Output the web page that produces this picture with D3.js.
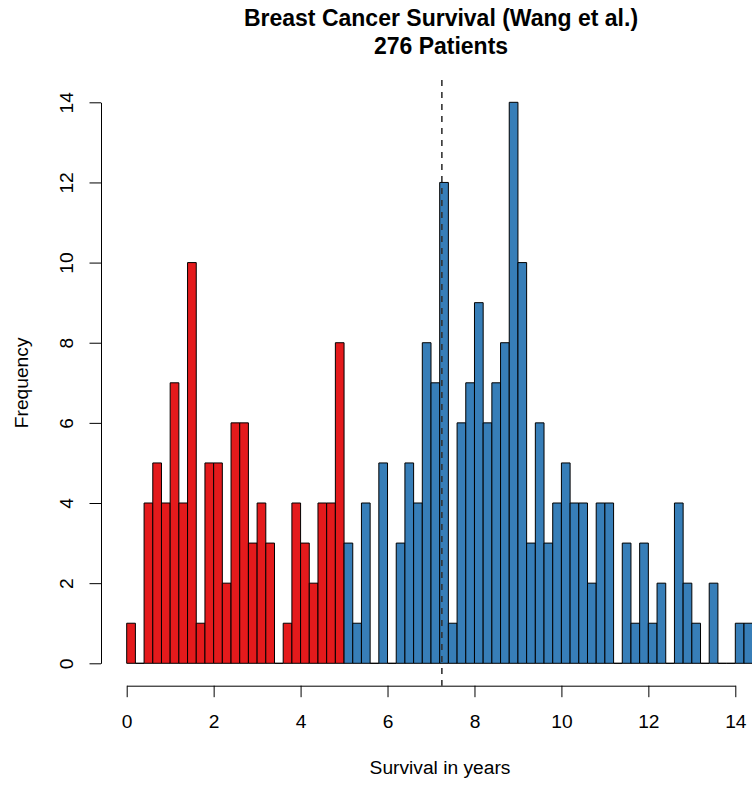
<!DOCTYPE html>
<html>
<head>
<meta charset="utf-8">
<script src="https://cdn.jsdelivr.net/npm/d3@7"></script>
<style>
  html, body { margin: 0; padding: 0; background: #ffffff; }
  svg { display: block; font-family: "Liberation Sans", Arial, Helvetica, sans-serif; }
</style>
</head>
<body>
<svg id="chart" width="752" height="787"></svg>
<script>
// ---- data ----
const binWidth = 0.2;
// lower edges of bins (years) for the red group (< 5 years)
const redStarts = [0.0, 0.2, 0.4, 0.6, 0.8, 1.0, 1.2, 1.4, 1.6, 1.8, 2.0, 2.2, 2.4, 2.6, 2.8,
                   3.0, 3.2, 3.4, 3.6, 3.8, 4.0, 4.2, 4.4, 4.6, 4.8];
const redCounts = [1, 0, 4, 5, 4, 7, 4, 10, 1, 5, 5, 2, 6, 6, 3,
                   4, 3, 0, 1, 4, 3, 2, 4, 4, 8];
// lower edges of bins (years) for the blue group (>= 5 years)
const blueStarts = [5.0, 5.2, 5.4, 5.6, 5.8, 6.0, 6.2, 6.4, 6.6, 6.8, 7.0, 7.2, 7.4, 7.6, 7.8,
                    8.0, 8.2, 8.4, 8.6, 8.8, 9.0, 9.2, 9.4, 9.6, 9.8, 10.0, 10.2, 10.4, 10.6, 10.8,
                    11.0, 11.2, 11.4, 11.6, 11.8, 12.0, 12.2, 12.4, 12.6, 12.8, 13.0, 13.2, 13.4, 13.6, 13.8,
                    14.0, 14.2];
const blueCounts = [3, 1, 4, 0, 5, 0, 3, 5, 4, 8, 7, 12, 1, 6, 7,
                    9, 6, 7, 8, 14, 10, 3, 6, 3, 4, 5, 4, 4, 2, 4,
                    4, 0, 3, 1, 3, 1, 2, 0, 4, 2, 1, 0, 2, 0, 0,
                    1, 1];
const meanSurvival = 7.25;
const xTicks = [0, 2, 4, 6, 8, 10, 12, 14];
const yTicks = [0, 2, 4, 6, 8, 10, 12, 14];
const titleLines = ["Breast Cancer Survival (Wang et al.)", "276 Patients"];
const xLabel = "Survival in years";
const yLabel = "Frequency";
const redColor = "#E41A1C";
const blueColor = "#377EB8";

// ---- layout ----
const svg = d3.select("#chart");
const x = d3.scaleLinear().domain([0, 14]).range([126.7, 735.3]);
const y = d3.scaleLinear().domain([0, 14]).range([663.3, 102.3]);
const plotTop = 80, plotBottom = 685.7, plotLeft = 101;
const fontSize = 19.2;

// ---- bars ----
function drawBars(starts, counts, color) {
  const data = starts.map((s, i) => ({ x0: s, x1: s + binWidth, n: counts[i] }));
  svg.append("g")
    .selectAll("path")
    .data(data)
    .join("path")
    .attr("d", d => {
      const a = x(d.x0), b = x(d.x1), y0 = y(0), y1 = y(d.n);
      return `M${a},${y0}V${y1}H${b}V${y0}Z`;
    })
    .attr("fill", color)
    .attr("stroke", "#000")
    .attr("stroke-width", 1);
}
drawBars(redStarts, redCounts, redColor);
drawBars(blueStarts, blueCounts, blueColor);

// ---- mean line ----
svg.append("line")
  .attr("x1", x(meanSurvival)).attr("x2", x(meanSurvival))
  .attr("y1", plotTop).attr("y2", plotBottom)
  .attr("stroke", "#333")
  .attr("stroke-width", 1.6)
  .attr("stroke-dasharray", "6,6");

// ---- axes ----
const xAxis = d3.axisBottom(x).tickValues(xTicks).tickSize(11.5).tickSizeOuter(0).tickFormat(d3.format("d"));
const gx = svg.append("g").attr("transform", `translate(0,${plotBottom})`).call(xAxis);
gx.select(".domain").attr("stroke", "#000").attr("stroke-width", 1);
gx.selectAll(".tick line").attr("stroke", "#000").attr("stroke-width", 1);
gx.selectAll(".tick text")
  .attr("y", 42.6).attr("dy", 0)
  .attr("fill", "#000")
  .style("font-size", fontSize + "px")
  .style("font-family", "'Liberation Sans', Arial, sans-serif");

const yAxis = d3.axisLeft(y).tickValues(yTicks).tickSize(11.5).tickSizeOuter(0).tickFormat(d3.format("d"));
const gy = svg.append("g").attr("transform", `translate(${plotLeft},0)`).call(yAxis);
gy.select(".domain").attr("stroke", "#000").attr("stroke-width", 1);
gy.selectAll(".tick line").attr("stroke", "#000").attr("stroke-width", 1);
gy.selectAll(".tick text")
  .attr("x", 0).attr("y", 0).attr("dy", 0)
  .attr("text-anchor", "middle")
  .attr("transform", "translate(-28,0) rotate(-90)")
  .attr("fill", "#000")
  .style("font-size", fontSize + "px")
  .style("font-family", "'Liberation Sans', Arial, sans-serif");

// ---- titles & labels ----
svg.append("text")
  .attr("x", 441).attr("y", 26)
  .attr("text-anchor", "middle")
  .style("font-size", "23px").style("font-weight", "bold")
  .text(titleLines[0]);
svg.append("text")
  .attr("x", 441).attr("y", 54)
  .attr("text-anchor", "middle")
  .style("font-size", "23px").style("font-weight", "bold")
  .text(titleLines[1]);

svg.append("text")
  .attr("x", 440).attr("y", 774)
  .attr("text-anchor", "middle")
  .style("font-size", fontSize + "px")
  .text(xLabel);

svg.append("text")
  .attr("transform", `translate(28,${(plotTop + plotBottom) / 2}) rotate(-90)`)
  .attr("text-anchor", "middle")
  .style("font-size", fontSize + "px")
  .text(yLabel);
</script>
</body>
</html>
